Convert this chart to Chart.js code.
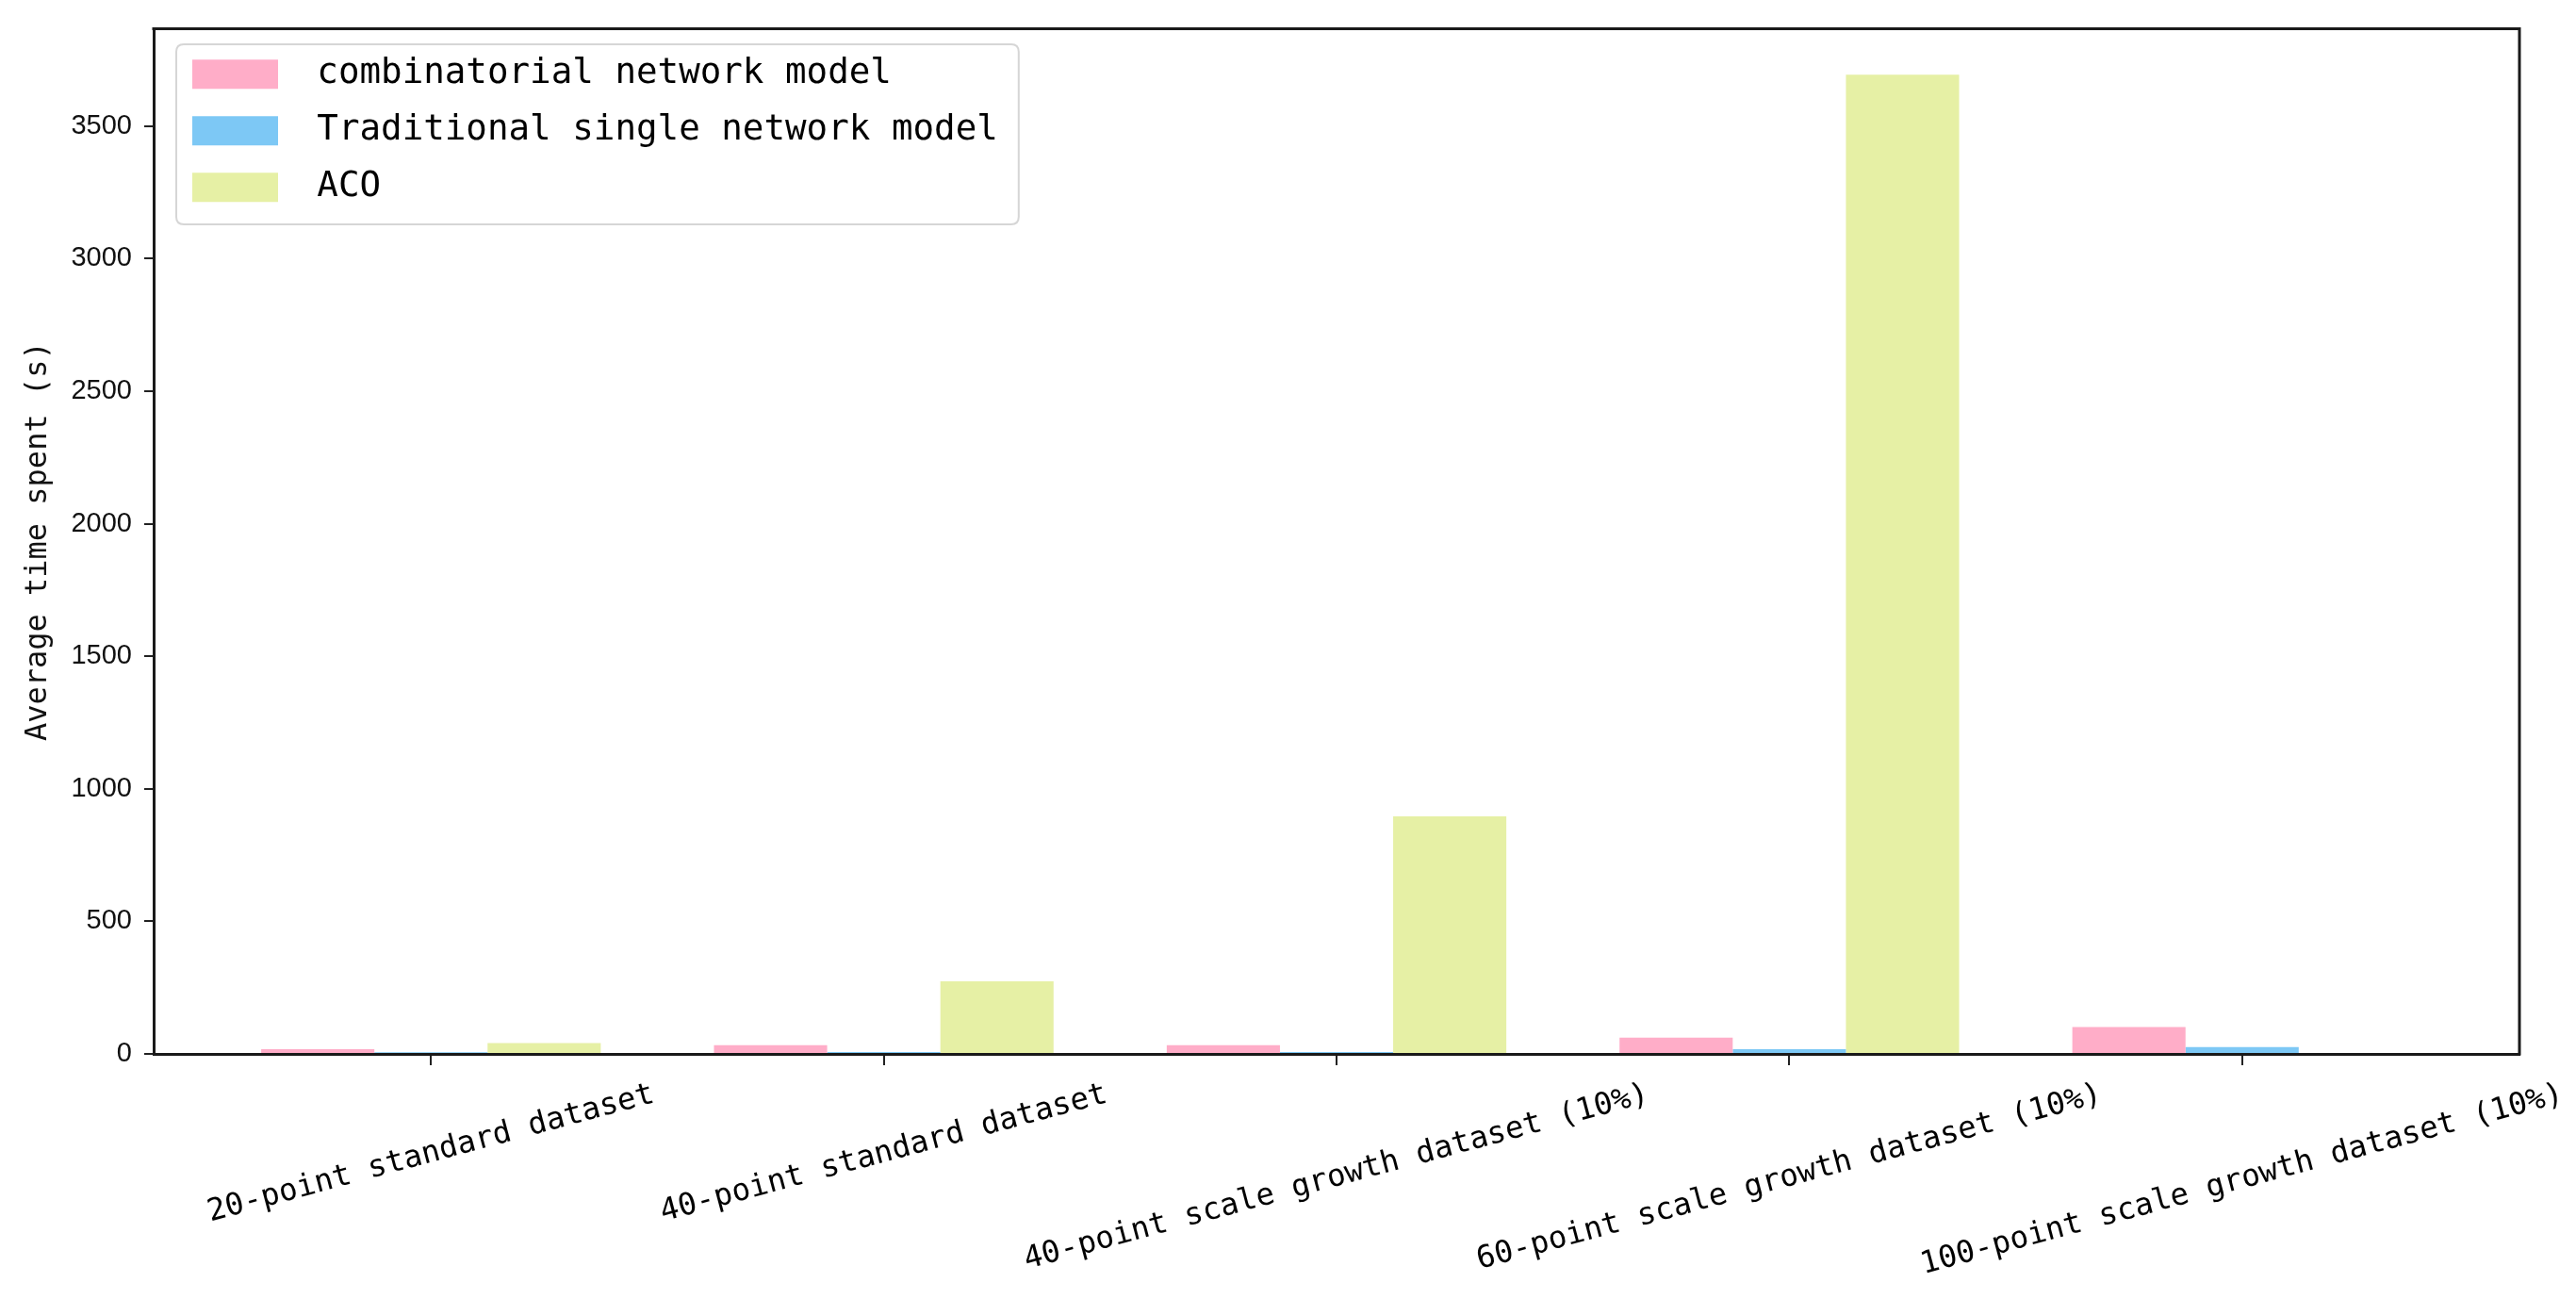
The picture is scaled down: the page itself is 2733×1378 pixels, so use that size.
<!DOCTYPE html>
<html>
<head>
<meta charset="utf-8">
<script src="https://cdn.jsdelivr.net/npm/chart.js@4.4.1/dist/chart.umd.min.js"></script>
<style>
html,body{margin:0;padding:0;background:#fff;}
#wrap{width:2733px;height:1378px;}
</style>
</head>
<body>
<div id="wrap"><canvas id="c" width="2733" height="1378"></canvas></div>
<script>
// ---- data ----
const categories = [
  '20-point standard dataset',
  '40-point standard dataset',
  '40-point scale growth dataset (10%)',
  '60-point scale growth dataset (10%)',
  '100-point scale growth dataset (10%)'
];
const seriesNames = ['combinatorial network model', 'Traditional single network model', 'ACO'];
const combinatorial = [18, 33, 33, 61, 101];
const traditional = [6, 7, 7, 18, 26];
const aco = [41, 274, 896, 3694, null];
const yTicks = [0, 500, 1000, 1500, 2000, 2500, 3000, 3500];
const yLabel = 'Average time spent (s)';
const colors = ['#FFADC8', '#7DC8F5', '#E6F0A5'];

const MONO = '"DejaVu Sans Mono"';
const toPoints = arr => arr.map((v, i) => ({x: i, y: v}));

const legendShift = {
  id: 'legendShift',
  afterLayout(chart) {
    const lg = chart.legend;
    const a = chart.chartArea;
    if (lg) {
      lg.left = a.left + 18.5;
      lg.top = a.top + 7;
      lg.right = a.right;
      lg.bottom = a.bottom;
    }
  }
};

const legendBox = {
  id: 'legendBox',
  beforeDraw(chart) {
    const hb = chart.legend && chart.legend.legendHitBoxes;
    if (!hb || !hb.length) return;
    const ctx = chart.ctx;
    const left = hb[0].left - 17;
    const top = hb[0].top - 13;
    let right = 0;
    hb.forEach(h => { right = Math.max(right, h.left + h.width); });
    right += 22;
    const last = hb[hb.length - 1];
    const bottom = last.top + last.height + 20.5;
    const r = 8;
    ctx.save();
    ctx.beginPath();
    ctx.moveTo(left + r, top);
    ctx.lineTo(right - r, top);
    ctx.quadraticCurveTo(right, top, right, top + r);
    ctx.lineTo(right, bottom - r);
    ctx.quadraticCurveTo(right, bottom, right - r, bottom);
    ctx.lineTo(left + r, bottom);
    ctx.quadraticCurveTo(left, bottom, left, bottom - r);
    ctx.lineTo(left, top + r);
    ctx.quadraticCurveTo(left, top, left + r, top);
    ctx.closePath();
    ctx.fillStyle = 'rgba(255,255,255,0.85)';
    ctx.fill();
    ctx.strokeStyle = '#d6d6d6';
    ctx.lineWidth = 2;
    ctx.stroke();
    ctx.restore();
  }
};

const frame = {
  id: 'frame',
  afterDatasetsDraw(chart) {
    const a = chart.chartArea;
    const ctx = chart.ctx;
    ctx.save();
    ctx.strokeStyle = '#1a1a1a';
    ctx.lineWidth = 3;
    ctx.beginPath();
    ctx.moveTo(a.left - 1.5, a.top);
    ctx.lineTo(a.right, a.top);
    ctx.lineTo(a.right, a.bottom + 1.5);
    ctx.stroke();
    ctx.restore();
  }
};

const xLabels = {
  id: 'xLabels',
  afterDraw(chart) {
    const xs = chart.scales.x;
    const ctx = chart.ctx;
    const size = 32.5;
    const th = 15 * Math.PI / 180;
    ctx.save();
    ctx.font = size + 'px ' + MONO;
    ctx.fillStyle = '#000';
    ctx.textAlign = 'center';
    ctx.textBaseline = 'middle';
    categories.forEach((lab, i) => {
      const px = xs.getPixelForValue(i);
      const W = ctx.measureText(lab).width;
      const H = size;
      const bh = W * Math.sin(th) + H * Math.cos(th);
      const cy = xs.top + 27 + bh / 2;
      ctx.save();
      ctx.translate(px, cy);
      ctx.rotate(-th);
      ctx.fillText(lab, 0, 0);
      ctx.restore();
    });
    ctx.restore();
  }
};

new Chart(document.getElementById('c'), {
  type: 'bar',
  data: {
    datasets: [
      {label: seriesNames[0], data: toPoints(combinatorial), backgroundColor: colors[0]},
      {label: seriesNames[1], data: toPoints(traditional), backgroundColor: colors[1]},
      {label: seriesNames[2], data: toPoints(aco), backgroundColor: colors[2]}
    ]
  },
  options: {
    responsive: false,
    animation: false,
    layout: {padding: {top: 24, right: 60, left: 0, bottom: 0}},
    datasets: {bar: {categoryPercentage: 0.75, barPercentage: 1.0, borderWidth: 0}},
    scales: {
      x: {
        type: 'linear',
        offset: false,
        min: -0.6125,
        max: 4.6125,
        afterBuildTicks: s => { s.ticks = categories.map((c, i) => ({value: i})); },
        afterFit: s => { s.height = 260; },
        ticks: {display: false},
        grid: {display: true, drawOnChartArea: false, drawTicks: true, tickLength: 12, color: '#222', lineWidth: 2, offset: false},
        border: {display: true, color: '#1a1a1a', width: 3}
      },
      y: {
        min: 0,
        max: 3868,
        afterBuildTicks: s => { s.ticks = yTicks.map(v => ({value: v})); },
        afterFit: s => { s.width = 163; },
        ticks: {font: {family: 'Liberation Sans', size: 29}, color: '#111', padding: 13, callback: v => String(v)},
        grid: {display: true, drawOnChartArea: false, drawTicks: true, tickLength: 10, color: '#222', lineWidth: 2},
        border: {display: true, color: '#1a1a1a', width: 3},
        title: {display: true, text: yLabel, font: {family: 'DejaVu Sans Mono', size: 32}, color: '#111', padding: {top: 21, bottom: 0}}
      }
    },
    plugins: {
      legend: {
        position: 'chartArea',
        align: 'start',
        labels: {
          boxWidth: 91,
          boxHeight: 31,
          padding: 22.5,
          color: '#000',
          font: {family: 'DejaVu Sans Mono', size: 37.5},
          generateLabels(chart) {
            const items = Chart.defaults.plugins.legend.labels.generateLabels(chart);
            items.forEach(it => { it.text = ' ' + it.text; it.lineWidth = 0; });
            return items;
          }
        }
      },
      tooltip: {enabled: false}
    }
  },
  plugins: [legendShift, legendBox, frame, xLabels]
});
</script>
</body>
</html>
